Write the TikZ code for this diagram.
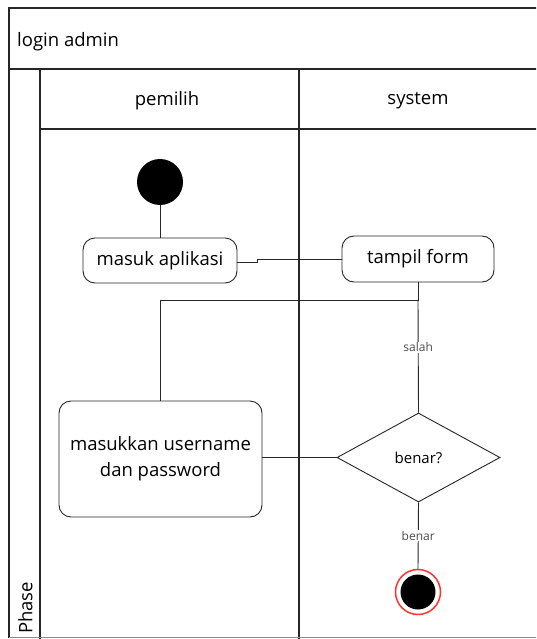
\documentclass[tikz,border=0pt]{standalone}
\usepackage{fontspec}
\setmainfont{Open Sans}
\usetikzlibrary{shapes.geometric}
\begin{document}
\begin{tikzpicture}[x=1pt,y=-1pt,
  frame/.style={draw=black!85,line width=1.3pt},
  flow/.style={draw=black!85,line width=0.9pt},
  action/.style={draw=black!85,line width=0.9pt,rounded corners=12pt,align=center,
    font=\fontsize{18.5}{26}\selectfont,inner sep=0pt},
  decision/.style={draw=black!85,line width=0.9pt,diamond,aspect=1.83,inner sep=0pt,
    minimum width=163pt,minimum height=89pt,font=\fontsize{15}{18}\selectfont},
  guard/.style={fill=white,inner sep=1pt,text=black!70,font=\fontsize{12}{14}\selectfont},
  lanetitle/.style={font=\fontsize{18.5}{22}\selectfont}]
\useasboundingbox (0,0) rectangle (536,639);
\clip (0,0) rectangle (536,639);

% pool frame, title row and lanes
\draw[frame] (9,637.5) -- (9,8) -- (560,8);
\draw[frame] (9,69) -- (560,69);
\draw[frame] (40,69) -- (40,640);
\draw[frame] (40,129) -- (560,129);
\draw[frame] (299,69) -- (299,640);
\draw[draw=black!45,line width=1.3pt] (9,637.5) -- (560,637.5);

\node[anchor=west,lanetitle,inner sep=0pt] (pool) at (17,41.5) {login admin};
\node[lanetitle] (lane1) at (167,100.5) {pemilih};
\node[lanetitle] (lane2) at (418,100.5) {system};
\node[rotate=90,anchor=west,lanetitle,inner sep=0pt] (phase) at (25.5,634) {Phase};

% activity nodes
\node[circle,fill=black,minimum size=46pt,inner sep=0pt] (start) at (160,182) {};
\node[action,minimum width=154pt,minimum height=45pt] (masuk) at (160,260.5) {\raisebox{-2pt}{masuk aplikasi}};
\node[action,minimum width=152pt,minimum height=46pt] (form) at (418,259) {\raisebox{-2pt}{tampil form}};
\node[action,minimum width=203pt,minimum height=116pt] (input) at (160.5,459) {masukkan username\\dan password};
\node[decision] (cek) at (418.5,457.5) {benar?};
\node[circle,draw=red!80,line width=1.5pt,minimum size=45pt,inner sep=0pt] (end) at (418,592) {};
\node[circle,fill=black,minimum size=35pt,inner sep=0pt] (endcore) at (end) {};
\coordinate (join) at (418,300);
\coordinate (jog) at (257,262);

% control flow
\draw[flow] (start) -- (masuk);
\draw[flow] (masuk.east |- 0,262) -- (jog) |- (form.west);
\draw[flow] (form.south -| join) -- (join) -| (input.north);
\draw[flow] (cek.north) -- node[guard,pos=0.58] {salah} (join);
\draw[flow] (input.east |- cek.west) -- (cek.west);
\draw[flow] (cek.south) -- node[guard,pos=0.5] {benar} (end.north);
\end{tikzpicture}
\end{document}
